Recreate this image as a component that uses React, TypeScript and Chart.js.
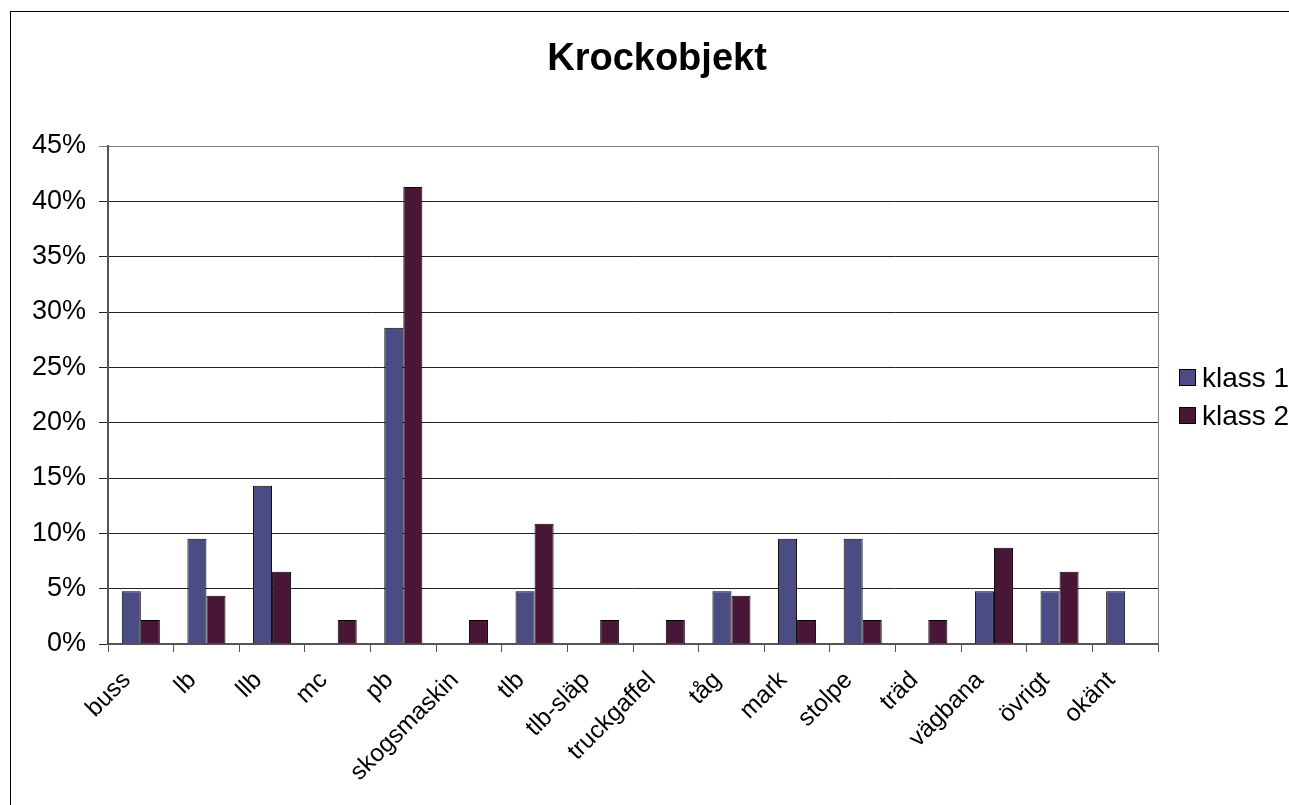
import React, { useEffect, useRef } from "react";
import { Chart, registerables } from "chart.js";

Chart.register(...registerables);

const chartTitle = "Krockobjekt";
const categories = [
  "buss", "lb", "llb", "mc", "pb", "skogsmaskin", "tlb", "tlb-släp",
  "truckgaffel", "tåg", "mark", "stolpe", "träd", "vägbana", "övrigt", "okänt",
];
const seriesNames = ["klass 1", "klass 2"];
const klass1 = [4.76, 9.52, 14.29, 0, 28.57, 0, 4.76, 0, 0, 4.76, 9.52, 9.52, 0, 4.76, 4.76, 4.76];
const klass2 = [2.17, 4.35, 6.52, 2.17, 41.3, 2.17, 10.87, 2.17, 2.17, 4.35, 2.17, 2.17, 2.17, 8.7, 6.52, 0];
const yMax = 45;
const yStep = 5;
const colors = ["#4c4c84", "#4a1637"];

const FONT = "'Liberation Sans', Arial, sans-serif";

const CANVAS_W = 1292;
const CANVAS_H = 798;

const titlePlugin = {
  id: "customTitle",
  afterDraw(chart: any) {
    const ctx = chart.ctx;
    ctx.save();
    ctx.font = `bold 38px ${FONT}`;
    ctx.fillStyle = "#000";
    ctx.textAlign = "center";
    ctx.textBaseline = "middle";
    ctx.fillText(chartTitle, chart.width / 2, 48);
    ctx.restore();
  },
};

const framePlugin = {
  id: "plotFrame",
  beforeDatasetsDraw(chart: any) {
    const { ctx, chartArea } = chart;
    ctx.save();
    ctx.strokeStyle = "#808080";
    ctx.lineWidth = 1;
    ctx.beginPath();
    ctx.moveTo(Math.round(chartArea.right) + 0.5, chartArea.top);
    ctx.lineTo(Math.round(chartArea.right) + 0.5, chartArea.bottom);
    ctx.stroke();
    ctx.restore();
  },
};

const legendPlugin = {
  id: "customLegend",
  afterDraw(chart: any) {
    const ctx = chart.ctx;
    ctx.save();
    ctx.font = `28px ${FONT}`;
    ctx.textBaseline = "middle";
    ctx.textAlign = "left";
    chart.data.datasets.forEach((ds: any, i: number) => {
      const cy = 366 + i * 38;
      const bx = 1168;
      ctx.fillStyle = ds.backgroundColor;
      ctx.fillRect(bx, cy - 9, 17, 17);
      ctx.strokeStyle = "#000";
      ctx.lineWidth = 1;
      ctx.strokeRect(bx + 0.5, cy - 8.5, 16, 16);
      ctx.fillStyle = "#000";
      ctx.fillText(ds.label, bx + 23, cy + 1);
    });
    ctx.restore();
  },
};

export default function App() {
  const ref = useRef<HTMLCanvasElement | null>(null);

  useEffect(() => {
    if (!ref.current) return;
    const chart = new Chart(ref.current, {
      type: "bar",
      data: {
        labels: categories,
        datasets: [
          {
            label: seriesNames[0],
            data: klass1,
            backgroundColor: colors[0],
            borderColor: "#000",
            borderWidth: 1,
            categoryPercentage: 0.58,
            barPercentage: 1.0,
          },
          {
            label: seriesNames[1],
            data: klass2,
            backgroundColor: colors[1],
            borderColor: "#000",
            borderWidth: 1,
            categoryPercentage: 0.58,
            barPercentage: 1.0,
          },
        ],
      },
      options: {
        responsive: false,
        animation: false,
        layout: { padding: { top: 134, right: 145, left: 0, bottom: 0 } },
        plugins: {
          legend: { display: false },
          title: { display: false },
          tooltip: { enabled: false },
        },
        scales: {
          x: {
            grid: {
              drawOnChartArea: false,
              drawTicks: true,
              tickLength: 8,
              color: "#555",
              offset: true,
            },
            border: { color: "#555", width: 2 },
            ticks: {
              color: "#000",
              font: { family: FONT, size: 24.5 },
              minRotation: 45,
              maxRotation: 45,
              autoSkip: false,
              padding: 14,
              labelOffset: -14,
            },
            afterFit: (scale: any) => {
              scale.height = 166;
            },
          },
          y: {
            min: 0,
            max: yMax,
            grid: {
              color: (ctx: any) => (ctx.tick && ctx.tick.value === yMax ? "#808080" : "#222"),
              tickLength: 9,
              lineWidth: 1,
            },
            border: { color: "#555", width: 2 },
            ticks: {
              stepSize: yStep,
              color: "#000",
              font: { family: FONT, size: 27 },
              padding: 13,
              callback: (v: any) => `${v}%`,
            },
            afterFit: (scale: any) => {
              scale.width = 97;
            },
          },
        },
      },
      plugins: [titlePlugin, framePlugin, legendPlugin],
    });
    return () => chart.destroy();
  }, []);

  return (
    <div
      style={{
        position: "fixed",
        left: 0,
        top: 0,
        width: 1289,
        height: 805,
        overflow: "hidden",
        background: "#fff",
      }}
    >
      <div
        style={{
          position: "absolute",
          left: 10,
          top: 11,
          width: CANVAS_W + 2,
          height: CANVAS_H + 2,
          border: "1px solid #000",
          boxSizing: "border-box",
          background: "#fff",
        }}
      >
        <canvas
          ref={ref}
          width={CANVAS_W}
          height={CANVAS_H}
          style={{ display: "block", width: CANVAS_W, height: CANVAS_H }}
        />
      </div>
    </div>
  );
}
